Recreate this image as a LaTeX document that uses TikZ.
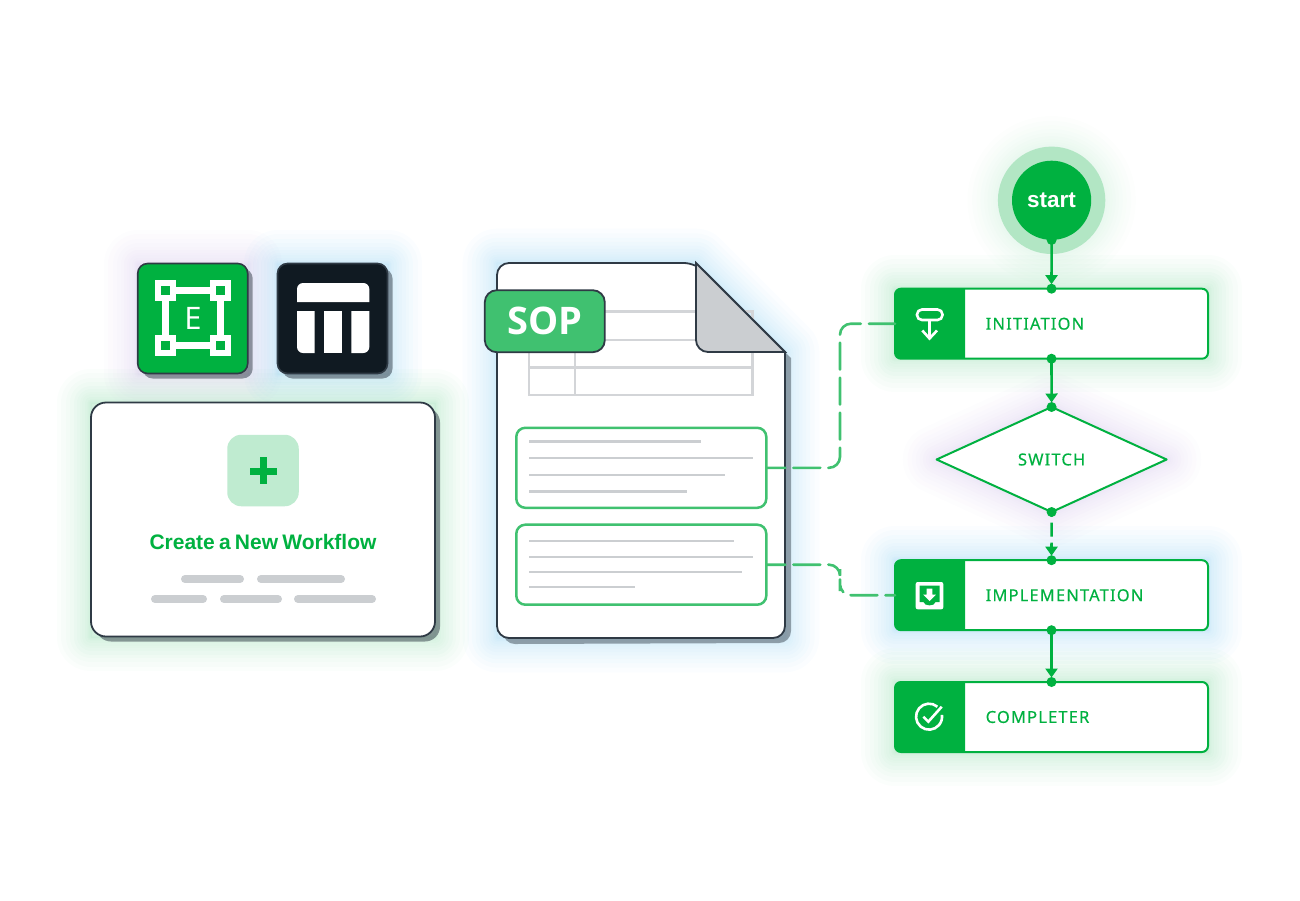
\documentclass[tikz,border=0pt]{standalone}
\usepackage{fontspec}
\setmainfont{Liberation Sans}
\newfontfamily\flowfont[LetterSpace=7,FakeBold=0.35]{Noto Sans}
\newfontfamily\sopfont{Open Sans}
\usetikzlibrary{arrows.meta,shapes.geometric,shadows}
\definecolor{flowgreen}{HTML}{00B140}
\definecolor{softgreen}{HTML}{40C170}
\definecolor{ringgreen}{HTML}{B2E6C4}
\definecolor{plusgreen}{HTML}{BFEBD0}
\definecolor{darkline}{HTML}{2F3A45}
\definecolor{darkfill}{HTML}{101A22}
\definecolor{palegrey}{HTML}{CBCED1}
\definecolor{glowgreen}{HTML}{2DBB63}
\definecolor{glowblue}{HTML}{2AA5E6}
\definecolor{glowpurple}{HTML}{A98AD6}
\newcommand{\softglow}[2]{%
  \foreach \g in {1,...,14}
    \draw[#2,opacity=.018,line width=.35*\g*\g pt,line join=round] #1;}
\tikzset{
  dropped/.style={drop shadow={shadow xshift=5pt,shadow yshift=-5pt,fill=darkline,opacity=.5}},
  iconbox/.style={rectangle,draw=darkline,line width=1.6pt,rounded corners=10pt,minimum size=110pt,inner sep=0pt,outer sep=0pt,dropped},
  cardbox/.style={rectangle,draw=darkline,line width=1.8pt,fill=white,rounded corners=15pt,minimum width=344pt,minimum height=234pt,inner sep=0pt,outer sep=0pt,dropped},
  sectionbox/.style={rectangle,draw=softgreen,line width=2.5pt,rounded corners=9pt,minimum width=250pt,minimum height=80pt,inner sep=0pt,outer sep=0pt},
  flowbox/.style={rectangle,draw=flowgreen,line width=2pt,fill=white,rounded corners=6pt,minimum width=313pt,minimum height=70pt,inner sep=0pt,outer sep=0pt},
  flowlabel/.style={text=flowgreen,font=\flowfont\fontsize{16.5}{20}\selectfont,inner sep=0pt},
  flowlink/.style={flowgreen,line width=2.6pt,-{Triangle[width=12pt,length=9pt]},shorten >=4.5pt},
  dashlink/.style={softgreen,line width=2.6pt,line cap=round,rounded corners=11pt,dash pattern=on 27pt off 8pt,dash phase=8pt},
  greyline/.style={palegrey,line width=2.4pt},
  tablegrid/.style={palegrey!85!white,line width=2.4pt},
  whitestroke/.style={white,line width=2.6pt}
}
\begin{document}
\begin{tikzpicture}[x=1pt,y=-1pt]
    \useasboundingbox (0,0) rectangle (1300,900);
    % glows
    \softglow{(91,403) rectangle (435,637)}{glowgreen}
    \softglow{(138,264) rectangle (248,374)}{glowpurple}
    \softglow{(278,264) rectangle (388,374)}{glowblue}
    \softglow{(497,263) -- (696,263) -- (785,352) -- (785,638) -- (497,638) -- cycle}{glowblue}
    \softglow{(895,289) rectangle (1208,358)}{glowgreen}
    \softglow{(895,560) rectangle (1208,630)}{glowblue}
    \softglow{(895,682) rectangle (1208,752)}{glowgreen}
    \softglow{(1051.6,200.3) circle (50)}{glowgreen!60!white}
    \softglow{(937,459.5) -- (1051.6,407) -- (1167,459.5) -- (1051.6,512) -- cycle}{glowpurple}
    % left card and its two icons
    \node[iconbox,fill=flowgreen] (greenicon) at (192.7,318.5) {};
    \draw[white,line width=6.4pt] (165.5,290.5) rectangle (220.5,345.5);
    \foreach \cx/\cy in {165.5/290.5,220.5/290.5,165.5/345.5,220.5/345.5}
        \draw[white,line width=6.4pt,fill=flowgreen] (\cx-7.3,\cy-7.3) rectangle (\cx+7.3,\cy+7.3);
    \node[text=white,font=\sopfont\fontsize{31}{31}\selectfont,inner sep=0pt] (iconletter) at (193,318) {E};
    \node[iconbox,fill=darkfill] (darkicon) at (332.5,318.5) {};
    \fill[white] (297,302) [rounded corners=6pt] -- (297,283) -- (369.3,283) [sharp corners] -- (369.3,302) -- cycle;
    \fill[white] (297,311) [rounded corners=6pt] -- (297,353) [sharp corners] -- (314.7,353) -- (314.7,311) -- cycle;
    \fill[white] (324.3,311) rectangle (342,353);
    \fill[white] (351.3,311) -- (351.3,353) [rounded corners=6pt] -- (369.3,353) [sharp corners] -- (369.3,311) -- cycle;
    \node[cardbox] (card) at (263,519.5) {};
    \node[rectangle,fill=plusgreen,rounded corners=14pt,minimum size=71.5pt,inner sep=0pt] (plusbox) at (263,470.5) {};
    \fill[flowgreen] (249.5,467.5) rectangle (276.5,474.5);
    \fill[flowgreen] (259.5,457) rectangle (266.5,484);
    \node[text=flowgreen,font=\bfseries\fontsize{21}{24}\selectfont,inner sep=0pt] (cardtitle) at (263,541.5) {\spaceskip=4.2pt Create a New Workflow};
    \foreach \xa/\xb/\yy in {185/240/579,261/341/579,155/203/599,224/278/599,298/372/599}
        \draw[palegrey,line width=8pt,line cap=round] (\xa,\yy) -- (\xb,\yy);
    % document
    \fill[darkline,opacity=.45] (503,275) -- (701,269) -- (791,358) -- (791,631)
        arc (0:-90:12pt) -- (515,644) arc (270:180:12pt) -- cycle;
    \draw[darkline,line width=1.8pt,fill=white,rounded corners=12pt]
        (497,400) -- (497,263) -- (696,263) [sharp corners] -- (785,352) [rounded corners=12pt] -- (785,638) -- (497,638) -- cycle;
    \draw[tablegrid] (529,311.5) rectangle (752.5,395);
    \draw[tablegrid] (529,340) -- (752.5,340);
    \draw[tablegrid] (529,367.3) -- (752.5,367.3);
    \draw[tablegrid] (574.7,311.5) -- (574.7,395);
    \draw[darkline,line width=1.8pt,fill=palegrey] (696,263) -- (785,352) [rounded corners=12pt] -- (696,352) [sharp corners] -- cycle;
    \node[rectangle,draw=darkline,line width=1.8pt,fill=softgreen,rounded corners=12pt,minimum width=120pt,minimum height=62pt,
        inner sep=0pt,text=white,font=\sopfont\bfseries\fontsize{38}{38}\selectfont] (soptag) at (544.8,321.2) {SOP};
    \node[sectionbox] (sectiona) at (641.3,467.8) {};
    \node[sectionbox] (sectionb) at (641.3,564.7) {};
    \foreach \xb/\yy in {701/441.5,753/458,725/475,687/491.5,734/541,753/557,742/572,635/587}
        \draw[greyline] (529,\yy) -- (\xb,\yy);
    % flow chart
    \node[circle,fill=ringgreen,minimum size=107.4pt,inner sep=0pt] (startring) at (1051.6,200.3) {};
    \node[circle,fill=flowgreen,minimum size=79.2pt,inner sep=0pt,outer sep=0pt,text=white,
        font=\bfseries\fontsize{22.5}{24}\selectfont] (start) at (1051.6,200.3) {start};
    \foreach \name/\yy/\txt in {initiation/323.7/INITIATION,implementation/595.2/IMPLEMENTATION,completer/717/COMPLETER} {
        \node[flowbox] (\name) at (1051.5,\yy) {};
        \fill[flowgreen] ([xshift=70pt]\name.north west) [rounded corners=6pt] -- (\name.north west)
            -- (\name.south west) [sharp corners] -- ([xshift=70pt]\name.south west) -- cycle;
        \node[flowlabel,anchor=west] (\name label) at (985.5,\yy) {\txt};
    }
    \node[diamond,draw=flowgreen,line width=2pt,fill=white,line join=round,aspect=2.2,minimum width=230pt,minimum height=105pt,
        inner sep=0pt,outer sep=0pt] (switch) at (1051.6,459.5) {};
    \node[flowlabel] (switchlabel) at (1051.6,459.5) {SWITCH};
    % icons in the green bands
    \draw[whitestroke,rounded corners=5pt] (917,309.5) rectangle (942.5,320);
    \draw[whitestroke] (929.5,320) -- (929.5,338);
    \draw[whitestroke] (922.3,330.5) -- (929.5,338.5) -- (937,330.5);
    \fill[white,rounded corners=2pt] (915.7,582) rectangle (943.3,609.3);
    \fill[flowgreen] (919.5,585.5) -- (939.5,585.5) -- (939.5,602) -- (935.5,602)
        .. controls (935,606.5) and (924,606.5) .. (923.5,602) -- (919.5,602) -- cycle;
    \fill[white] (926.7,588.7) -- (932.3,588.7) -- (932.3,594.7) -- (935.8,594.7) -- (929.5,601) -- (923.2,594.7) -- (926.7,594.7) -- cycle;
    \draw[whitestroke] (937.4,706.7) arc (50:368:13pt);
    \draw[whitestroke] (923.3,716.7) -- (928.3,721.7) -- (941.7,706.7);
    % connectors
    \coordinate (benda) at (840,395);
    \coordinate (bendb) at (840,580);
    \draw[dashlink] (sectiona.east) -| (benda) |- (initiation.west);
    \draw[dashlink] (sectionb.east) -| (bendb) |- (implementation.west);
    \draw[flowlink] (start.south) -- (initiation.north);
    \draw[flowlink] (initiation.south) -- (switch.north);
    \draw[flowlink,dash pattern=on 14pt off 6pt,dash phase=9.3pt] (switch.south) -- (implementation.north);
    \draw[flowlink] (implementation.south) -- (completer.north);
    \foreach \a in {start.south,initiation.north,initiation.south,switch.north,switch.south,implementation.north,implementation.south,completer.north}
        \fill[flowgreen] (\a) circle (5pt);
\end{tikzpicture}
\end{document}
